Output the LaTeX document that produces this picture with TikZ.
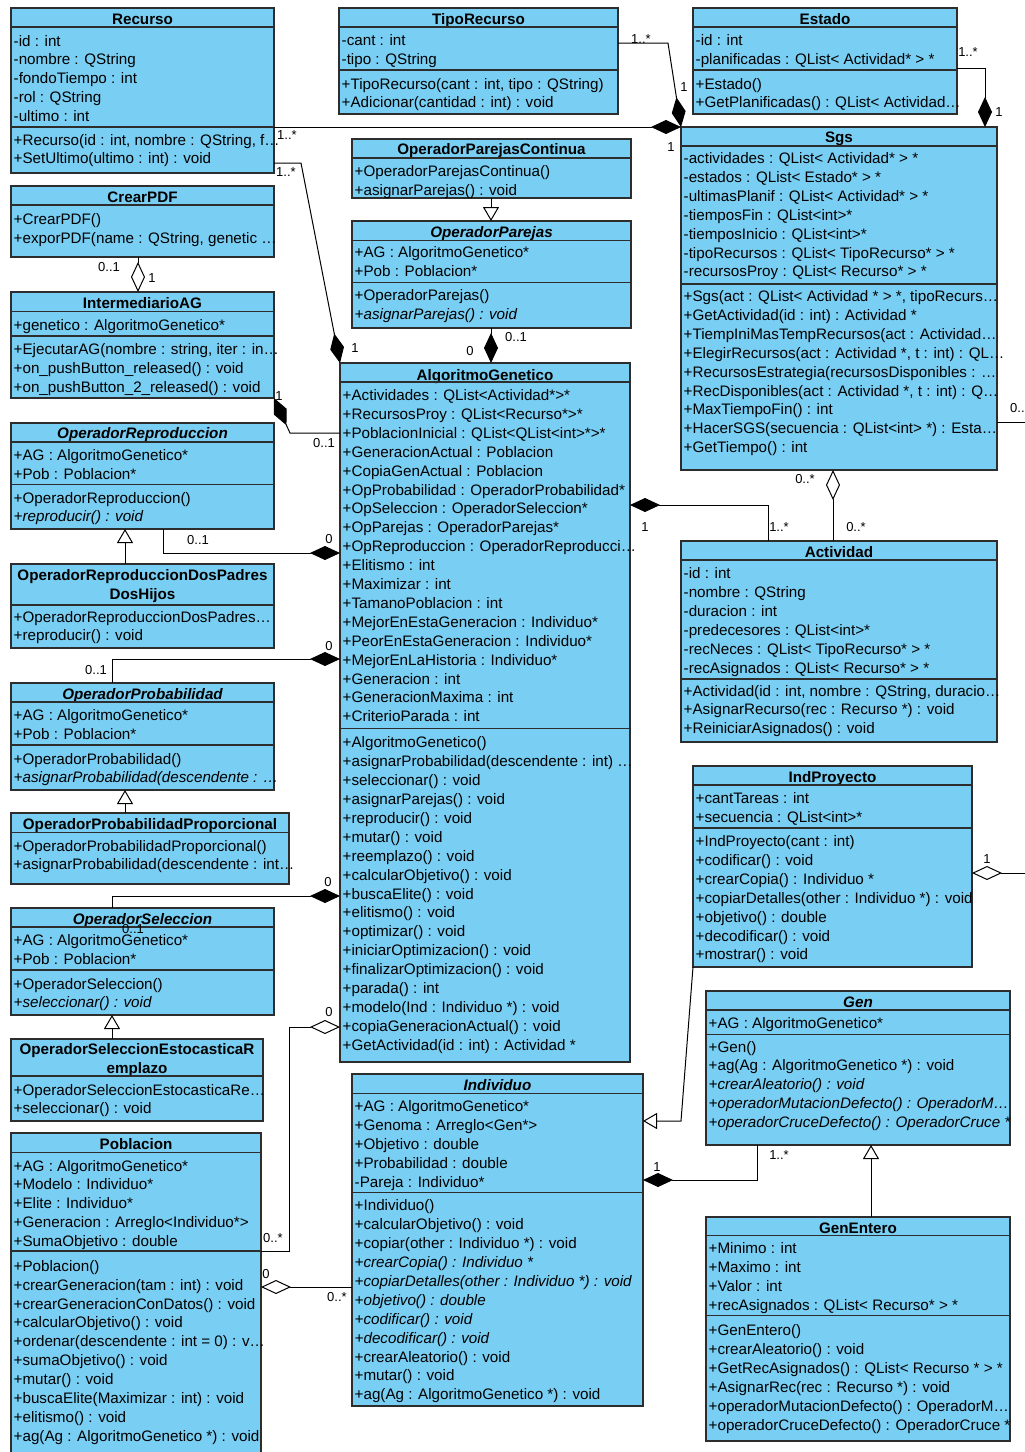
\documentclass[tikz,border=0pt]{standalone}
\usepackage{fontspec}
\setmainfont{Liberation Sans}
\usetikzlibrary{arrows.meta}
\definecolor{clsfill}{RGB}{121,206,243}
\definecolor{clsdraw}{RGB}{45,45,45}
\newcommand\rowfont{\fontsize{15.2}{18.9}\selectfont}
\newcommand\lblfont{\fontsize{13}{15}\selectfont}
\tikzset{
 clsbox/.style={draw=clsdraw, fill=clsfill, line width=1.2pt, anchor=north west, inner sep=0pt, outer sep=0pt},
 cline/.style={draw=clsdraw, line width=1.2pt},
 rowtxt/.style={anchor=base west, inner sep=0pt, font=\rowfont},
 ttl/.style={anchor=base, inner sep=0pt, font=\rowfont\bfseries},
 ittl/.style={anchor=base, inner sep=0pt, font=\rowfont\bfseries\itshape},
 conn/.style={draw=black, line width=1pt},
 comp/.style={-{Diamond[length=30pt,width=14pt,fill=black]}},
 aggr/.style={-{Diamond[length=30pt,width=14pt,open,fill=white]}},
 gen/.style={-{Triangle[length=14pt,width=16pt,open,fill=white]}},
 lbl/.style={font=\lblfont, inner sep=0pt, text height=9.4pt, text depth=0pt, anchor=center},
}
\newcommand\cls[5]{\node[clsbox, minimum width={#4-#2}, minimum height={#5-#3}] (#1) at (#2,#3) {};}
\newcommand\hl[2]{\draw[cline] (#1.west |- 0,#2) -- (#1.east |- 0,#2);}
\newcommand\crows[4]{\foreach \t [count=\i] in {#4}{\node[rowtxt] (#1-\i) at (#2,{#3+(\i-1)*18.9}) {\t};}}
\begin{document}
\begin{tikzpicture}[x=1pt,y=-1pt]
\path[use as bounding box] (0,0) rectangle (1025,1452);
\clip (0,0) rectangle (1025,1452);

% Recurso
\cls{Recurso}{11}{8}{274}{173}
\node[ttl] (Recurso-t) at (Recurso.north |- 0,24) {Recurso};
\hl{Recurso}{27}\hl{Recurso}{127}
\crows{Recurso-a}{13.5}{46}{{-id : int},{-nombre : QString},{-fondoTiempo : int},{-rol : QString},{-ultimo : int}}
\crows{Recurso-m}{13.5}{145}{{+Recurso(id : int, nombre : QString, f\dots},{+SetUltimo(ultimo : int) : void}}

% TipoRecurso
\cls{TipoRecurso}{339}{8}{618}{114}
\node[ttl] (TipoRecurso-t) at (TipoRecurso.north |- 0,24) {TipoRecurso};
\hl{TipoRecurso}{27}\hl{TipoRecurso}{70}
\crows{TipoRecurso-a}{341.5}{45.5}{{-cant : int},{-tipo : QString}}
\crows{TipoRecurso-m}{341.5}{89}{{+TipoRecurso(cant : int, tipo : QString)},{+Adicionar(cantidad : int) : void}}

% Estado
\cls{Estado}{693}{8}{957}{114}
\node[ttl] (Estado-t) at (Estado.north |- 0,24) {Estado};
\hl{Estado}{27}\hl{Estado}{70}
\crows{Estado-a}{695.5}{45.5}{{-id : int},{-planificadas : QList< Actividad* > *}}
\crows{Estado-m}{695.5}{89}{{+Estado()},{+GetPlanificadas() : QList< Actividad\dots}}

% OperadorParejasContinua
\cls{OperadorParejasContinua}{352}{139}{631}{198}
\node[ttl] (OperadorParejasContinua-t) at (OperadorParejasContinua.north |- 0,154.5) {OperadorParejasContinua};
\hl{OperadorParejasContinua}{158}
\crows{OperadorParejasContinua-m}{354.5}{176.5}{{+OperadorParejasContinua()},{+asignarParejas() : void}}

% OperadorParejas
\cls{OperadorParejas}{352}{221}{631}{328}
\node[ittl] (OperadorParejas-t) at (OperadorParejas.north |- 0,237) {OperadorParejas};
\hl{OperadorParejas}{240.5}\hl{OperadorParejas}{282.5}
\crows{OperadorParejas-a}{354.5}{257.5}{{+AG : AlgoritmoGenetico*},{+Pob : Poblacion*}}
\crows{OperadorParejas-m}{354.5}{300.5}{{+OperadorParejas()},{\itshape +asignarParejas() : void}}

% Sgs
\cls{Sgs}{681}{127}{997}{470}
\node[ttl] (Sgs-t) at (Sgs.north |- 0,142.5) {Sgs};
\hl{Sgs}{146}\hl{Sgs}{284}
\crows{Sgs-a}{683.5}{163.5}{{-actividades : QList< Actividad* > *},{-estados : QList< Estado* > *},{-ultimasPlanif : QList< Actividad* > *},{-tiemposFin : QList<int>*},{-tiemposInicio : QList<int>*},{-tipoRecursos : QList< TipoRecurso* > *},{-recursosProy : QList< Recurso* > *}}
\crows{Sgs-m}{683.5}{301.5}{{+Sgs(act : QList< Actividad * > *, tipoRecurs\dots},{+GetActividad(id : int) : Actividad *},{+TiempIniMasTempRecursos(act : Actividad\dots},{+ElegirRecursos(act : Actividad *, t : int) : QL\dots},{+RecursosEstrategia(recursosDisponibles : \dots},{+RecDisponibles(act : Actividad *, t : int) : Q\dots},{+MaxTiempoFin() : int},{+HacerSGS(secuencia : QList<int> *) : Esta\dots},{+GetTiempo() : int}}

% CrearPDF
\cls{CrearPDF}{11}{186}{274}{257}
\node[ttl] (CrearPDF-t) at (CrearPDF.north |- 0,202.5) {CrearPDF};
\hl{CrearPDF}{205}
\crows{CrearPDF-m}{13.5}{224.5}{{+CrearPDF()},{+exporPDF(name : QString, genetic \dots}}

% IntermediarioAG
\cls{IntermediarioAG}{11}{292}{274}{398}
\node[ttl] (IntermediarioAG-t) at (IntermediarioAG.north |- 0,308) {IntermediarioAG};
\hl{IntermediarioAG}{311.5}\hl{IntermediarioAG}{336}
\crows{IntermediarioAG-a}{13.5}{330}{{+genetico : AlgoritmoGenetico*}}
\crows{IntermediarioAG-m}{13.5}{354.5}{{+EjecutarAG(nombre : string, iter : in\dots},{+on\_pushButton\_released() : void},{+on\_pushButton\_2\_released() : void}}

% AlgoritmoGenetico
\cls{AlgoritmoGenetico}{340}{363}{630}{1062}
\node[ttl] (AlgoritmoGenetico-t) at (AlgoritmoGenetico.north |- 0,380) {AlgoritmoGenetico};
\hl{AlgoritmoGenetico}{382}\hl{AlgoritmoGenetico}{728.5}
\crows{AlgoritmoGenetico-a}{342.5}{400.5}{{+Actividades : QList<Actividad*>*},{+RecursosProy : QList<Recurso*>*},{+PoblacionInicial : QList<QList<int>*>*},{+GeneracionActual : Poblacion},{+CopiaGenActual : Poblacion},{+OpProbabilidad : OperadorProbabilidad*},{+OpSeleccion : OperadorSeleccion*},{+OpParejas : OperadorParejas*},{+OpReproduccion : OperadorReproducci\dots},{+Elitismo : int},{+Maximizar : int},{+TamanoPoblacion : int},{+MejorEnEstaGeneracion : Individuo*},{+PeorEnEstaGeneracion : Individuo*},{+MejorEnLaHistoria : Individuo*},{+Generacion : int},{+GeneracionMaxima : int},{+CriterioParada : int}}
\crows{AlgoritmoGenetico-m}{342.5}{747.8}{{+AlgoritmoGenetico()},{+asignarProbabilidad(descendente : int) \dots},{+seleccionar() : void},{+asignarParejas() : void},{+reproducir() : void},{+mutar() : void},{+reemplazo() : void},{+calcularObjetivo() : void},{+buscaElite() : void},{+elitismo() : void},{+optimizar() : void},{+iniciarOptimizacion() : void},{+finalizarOptimizacion() : void},{+parada() : int},{+modelo(Ind : Individuo *) : void},{+copiaGeneracionActual() : void},{+GetActividad(id : int) : Actividad *}}

% OperadorReproduccion
\cls{OperadorReproduccion}{11}{423}{274}{529}
\node[ittl] (OperadorReproduccion-t) at (OperadorReproduccion.north |- 0,438.5) {OperadorReproduccion};
\hl{OperadorReproduccion}{442}\hl{OperadorReproduccion}{484.5}
\crows{OperadorReproduccion-a}{13.5}{460.5}{{+AG : AlgoritmoGenetico*},{+Pob : Poblacion*}}
\crows{OperadorReproduccion-m}{13.5}{503}{{+OperadorReproduccion()},{\itshape +reproducir() : void}}

% OperadorReproduccionDosPadresDosHijos
\cls{OperadorReproduccionDosPadresDosHijos}{11}{564}{274}{648}
\node[ttl] (OpRepDP-t1) at (OperadorReproduccionDosPadresDosHijos.north |- 0,580.5) {OperadorReproduccionDosPadres};
\node[ttl] (OpRepDP-t2) at (OperadorReproduccionDosPadresDosHijos.north |- 0,599) {DosHijos};
\hl{OperadorReproduccionDosPadresDosHijos}{605}
\crows{OpRepDP-m}{13.5}{622}{{+OperadorReproduccionDosPadres\dots},{+reproducir() : void}}

% Actividad
\cls{Actividad}{681}{541}{997}{742}
\node[ttl] (Actividad-t) at (Actividad.north |- 0,557) {Actividad};
\hl{Actividad}{560}\hl{Actividad}{679}
\crows{Actividad-a}{683.5}{578.8}{{-id : int},{-nombre : QString},{-duracion : int},{-predecesores : QList<int>*},{-recNeces : QList< TipoRecurso* > *},{-recAsignados : QList< Recurso* > *}}
\crows{Actividad-m}{683.5}{696}{{+Actividad(id : int, nombre : QString, duracio\dots},{+AsignarRecurso(rec : Recurso *) : void},{+ReiniciarAsignados() : void}}

% OperadorProbabilidad
\cls{OperadorProbabilidad}{11}{683}{274}{790}
\node[ittl] (OperadorProbabilidad-t) at (OperadorProbabilidad.north |- 0,699) {OperadorProbabilidad};
\hl{OperadorProbabilidad}{702}\hl{OperadorProbabilidad}{745}
\crows{OperadorProbabilidad-a}{13.5}{720.5}{{+AG : AlgoritmoGenetico*},{+Pob : Poblacion*}}
\crows{OperadorProbabilidad-m}{13.5}{764}{{+OperadorProbabilidad()},{\itshape +asignarProbabilidad(descendente : \dots}}

% OperadorProbabilidadProporcional
\cls{OperadorProbabilidadProporcional}{11}{813}{289}{884}
\node[ttl] (OpProbProp-t) at (OperadorProbabilidadProporcional.north |- 0,829.5) {OperadorProbabilidadProporcional};
\hl{OperadorProbabilidadProporcional}{832.5}
\crows{OpProbProp-m}{13.5}{851}{{+OperadorProbabilidadProporcional()},{+asignarProbabilidad(descendente : int\dots}}

% IndProyecto
\cls{IndProyecto}{693}{766}{972}{967}
\node[ttl] (IndProyecto-t) at (IndProyecto.north |- 0,782) {IndProyecto};
\hl{IndProyecto}{785}\hl{IndProyecto}{828}
\crows{IndProyecto-a}{695.5}{803.8}{{+cantTareas : int},{+secuencia : QList<int>*}}
\crows{IndProyecto-m}{695.5}{846.5}{{+IndProyecto(cant : int)},{+codificar() : void},{+crearCopia() : Individuo *},{+copiarDetalles(other : Individuo *) : void},{+objetivo() : double},{+decodificar() : void},{+mostrar() : void}}

% OperadorSeleccion
\cls{OperadorSeleccion}{11}{908}{274}{1015}
\node[ittl] (OperadorSeleccion-t) at (OperadorSeleccion.north |- 0,924) {OperadorSeleccion};
\hl{OperadorSeleccion}{927}\hl{OperadorSeleccion}{970}
\crows{OperadorSeleccion-a}{13.5}{945.5}{{+AG : AlgoritmoGenetico*},{+Pob : Poblacion*}}
\crows{OperadorSeleccion-m}{13.5}{989}{{+OperadorSeleccion()},{\itshape +seleccionar() : void}}

% Gen
\cls{Gen}{706}{991}{1010}{1145}
\node[ittl] (Gen-t) at (Gen.north |- 0,1007) {Gen};
\hl{Gen}{1010}\hl{Gen}{1034.5}
\crows{Gen-a}{708.5}{1028.8}{{+AG : AlgoritmoGenetico*}}
\crows{Gen-m}{708.5}{1052}{{+Gen()},{+ag(Ag : AlgoritmoGenetico *) : void},{\itshape +crearAleatorio() : void},{\itshape +operadorMutacionDefecto() : OperadorM\dots},{\itshape +operadorCruceDefecto() : OperadorCruce *}}

% OperadorSeleccionEstocasticaReemplazo
\cls{OperadorSeleccionEstocasticaReemplazo}{11}{1039}{263}{1121}
\node[ttl] (OpSelER-t1) at (OperadorSeleccionEstocasticaReemplazo.north |- 0,1054.5) {OperadorSeleccionEstocasticaR};
\node[ttl] (OpSelER-t2) at (OperadorSeleccionEstocasticaReemplazo.north |- 0,1073.5) {emplazo};
\hl{OperadorSeleccionEstocasticaReemplazo}{1076}
\crows{OpSelER-m}{13.5}{1095}{{+OperadorSeleccionEstocasticaRe\dots},{+seleccionar() : void}}

% Individuo
\cls{Individuo}{352}{1074}{643}{1406}
\node[ittl] (Individuo-t) at (Individuo.north |- 0,1090.5) {Individuo};
\hl{Individuo}{1093.5}\hl{Individuo}{1192.5}
\crows{Individuo-a}{354.5}{1111.5}{{+AG : AlgoritmoGenetico*},{+Genoma : Arreglo<Gen*>},{+Objetivo : double},{+Probabilidad : double},{-Pareja : Individuo*}}
\crows{Individuo-m}{354.5}{1210.8}{{+Individuo()},{+calcularObjetivo() : void},{+copiar(other : Individuo *) : void},{\itshape +crearCopia() : Individuo *},{\itshape +copiarDetalles(other : Individuo *) : void},{\itshape +objetivo() : double},{\itshape +codificar() : void},{\itshape +decodificar() : void},{+crearAleatorio() : void},{+mutar() : void},{+ag(Ag : AlgoritmoGenetico *) : void}}

% Poblacion
\cls{Poblacion}{11}{1133}{261}{1460}
\node[ttl] (Poblacion-t) at (Poblacion.north |- 0,1149.5) {Poblacion};
\hl{Poblacion}{1152.5}\hl{Poblacion}{1251}
\crows{Poblacion-a}{13.5}{1171}{{+AG : AlgoritmoGenetico*},{+Modelo : Individuo*},{+Elite : Individuo*},{+Generacion : Arreglo<Individuo*>},{+SumaObjetivo : double}}
\crows{Poblacion-m}{13.5}{1271.2}{{+Poblacion()},{+crearGeneracion(tam : int) : void},{+crearGeneracionConDatos() : void},{+calcularObjetivo() : void},{+ordenar(descendente : int = 0) : v\dots},{+sumaObjetivo() : void},{+mutar() : void},{+buscaElite(Maximizar : int) : void},{+elitismo() : void},{+ag(Ag : AlgoritmoGenetico *) : void}}

% GenEntero
\cls{GenEntero}{706}{1217}{1010}{1441}
\node[ttl] (GenEntero-t) at (GenEntero.north |- 0,1233) {GenEntero};
\hl{GenEntero}{1235.5}\hl{GenEntero}{1315.5}
\crows{GenEntero-a}{708.5}{1253.8}{{+Minimo : int},{+Maximo : int},{+Valor : int},{+recAsignados : QList< Recurso* > *}}
\crows{GenEntero-m}{708.5}{1335.5}{{+GenEntero()},{+crearAleatorio() : void},{+GetRecAsignados() : QList< Recurso * > *},{+AsignarRec(rec : Recurso *) : void},{+operadorMutacionDefecto() : OperadorM\dots},{+operadorCruceDefecto() : OperadorCruce *}}

% connectors
\draw[conn,comp] (Recurso.east |- 0,127) -- (Sgs.north west);
\draw[conn,comp] (TipoRecurso.east |- 0,43) -- (668,43) -- (Sgs.north west);
\draw[conn,comp] (Estado.east |- 0,68) -| (Sgs.north -| 985,0);
\draw[conn,comp] (Recurso.east |- 0,163) -- (301,163) -- (AlgoritmoGenetico.north west);
\draw[conn,aggr] (CrearPDF.south -| 138,0) -- (IntermediarioAG.north -| 138,0);
\draw[conn,comp] (AlgoritmoGenetico.west |- 0,433) -- (290,433) -- (IntermediarioAG.south east);
\draw[conn,comp] (OperadorReproduccion.south -| 163,0) |- (AlgoritmoGenetico.west |- 0,553);
\draw[conn,gen] (OperadorReproduccionDosPadresDosHijos.north -| 125,0) -- (OperadorReproduccion.south -| 125,0);
\draw[conn,comp] (OperadorProbabilidad.north -| 112,0) |- (AlgoritmoGenetico.west |- 0,659);
\draw[conn,gen] (OperadorProbabilidadProporcional.north -| 125,0) -- (OperadorProbabilidad.south -| 125,0);
\draw[conn,comp] (OperadorSeleccion.north -| 112,0) |- (AlgoritmoGenetico.west |- 0,896);
\draw[conn,gen] (OperadorSeleccionEstocasticaReemplazo.north -| 112,0) -- (OperadorSeleccion.south -| 112,0);
\draw[conn,aggr] (Poblacion.east |- 0,1251) -- (289,1251) -- (289,1027) -- (AlgoritmoGenetico.west |- 0,1027);
\draw[conn,aggr] (Individuo.west |- 0,1287) -- (Poblacion.east |- 0,1287);
\draw[conn,gen] (OperadorParejasContinua.south -| 491,0) -- (OperadorParejas.north -| 491,0);
\draw[conn,comp] (OperadorParejas.south -| 491,0) -- (AlgoritmoGenetico.north -| 491,0);
\draw[conn,comp] (Actividad.north -| 768,0) |- (AlgoritmoGenetico.east |- 0,505);
\draw[conn,aggr] (Actividad.north -| 833,0) -- (Sgs.south -| 833,0);
\coordinate (sgsout) at (1025,422);
\draw[conn] (Sgs.east |- 0,422) -- (sgsout);
\coordinate (indout) at (1025,873);
\draw[conn,aggr] (indout) -- (IndProyecto.east |- 0,873);
\draw[conn,gen] (IndProyecto.south west) -- (681,1121) -- (Individuo.east |- 0,1121);
\draw[conn,comp] (Gen.south -| 757,0) |- (Individuo.east |- 0,1180);
\draw[conn,gen] (GenEntero.north -| 871,0) -- (Gen.south -| 871,0);

% multiplicity labels
\node[lbl] (m1) at (287,135) {1..*};
\node[lbl] (m2) at (671,147) {1};
\node[lbl] (m3) at (641,39) {1..*};
\node[lbl] (m4) at (684,87) {1};
\node[lbl] (m5) at (968,52) {1..*};
\node[lbl] (m6) at (999,112) {1};
\node[lbl] (m7) at (286,172) {1..*};
\node[lbl] (m8) at (355,348) {1};
\node[lbl] (m9) at (109,267) {0..1};
\node[lbl] (m10) at (152,278) {1};
\node[lbl] (m11) at (279,396) {1};
\node[lbl] (m12) at (324,443) {0..1};
\node[lbl] (m13) at (198,540) {0..1};
\node[lbl] (m14) at (329,539) {0};
\node[lbl] (m15) at (96,670) {0..1};
\node[lbl] (m16) at (329,646) {0};
\node[lbl] (m17) at (328,882) {0};
\node[lbl] (m18) at (133,929) {0..1};
\node[lbl] (m19) at (273,1238) {0..*};
\node[lbl] (m20) at (329,1012) {0};
\node[lbl] (m21) at (266,1274) {0};
\node[lbl] (m22) at (337,1297) {0..*};
\node[lbl] (m23) at (516,337) {0..1};
\node[lbl] (m24) at (470,351) {0};
\node[lbl] (m25) at (645,527) {1};
\node[lbl] (m26) at (779,527) {1..*};
\node[lbl] (m27) at (805,479) {0..*};
\node[lbl] (m28) at (856,527) {0..*};
\node[lbl, anchor=west] (m29) at (1010,408) {0..};
\node[lbl] (m30) at (987,859) {1};
\node[lbl] (m31) at (779,1155) {1..*};
\node[lbl] (m32) at (657,1167) {1};
\end{tikzpicture}
\end{document}
